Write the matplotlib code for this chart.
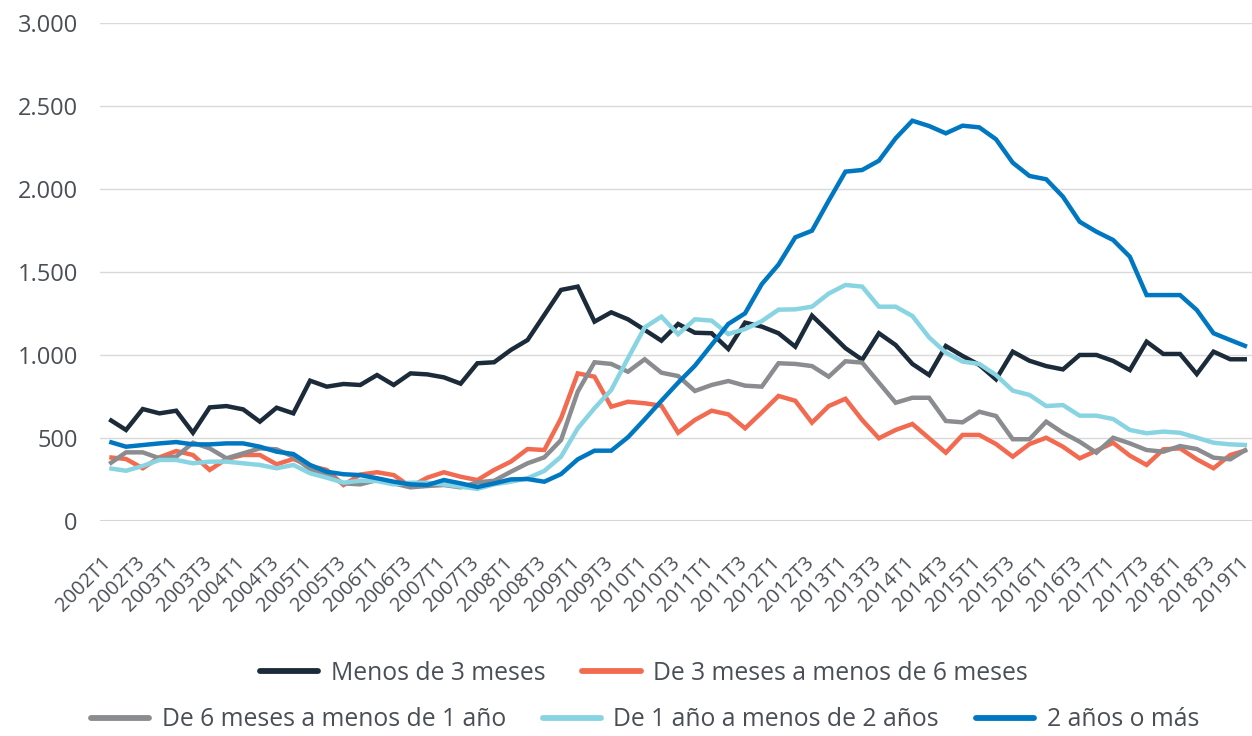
import matplotlib
matplotlib.use("Agg")
import matplotlib.pyplot as plt
import matplotlib.transforms as mtransforms
from matplotlib.lines import Line2D

plt.rcParams['font.family'] = ['Open Sans', 'DejaVu Sans']

# Quarterly periods 2002T1 .. 2019T1
periods = [f"{y}T{q}" for y in range(2002, 2020) for q in range(1, 5)][:69]

menos_3m = [611, 547, 673, 647, 663, 530, 683, 691, 671, 597, 681, 647, 844, 808, 824, 818,
            878, 818, 888, 882, 864, 826, 949, 955, 1029, 1089, 1240, 1391, 1411, 1200, 1256,
            1214, 1150, 1085, 1186, 1133, 1130, 1035, 1194, 1170, 1130, 1049, 1236, 1139, 1040,
            970, 1130, 1059, 945, 878, 1053, 993, 939, 852, 1019, 964, 932, 912, 999, 999, 963,
            908, 1079, 1005, 1005, 884, 1019, 973, 973]

de_3m_6m = [382, 372, 316, 382, 420, 396, 306, 372, 396, 396, 340, 372, 330, 306, 215, 278,
            292, 275, 205, 259, 292, 265, 245, 306, 356, 432, 426, 617, 888, 868, 687, 717,
            708, 693, 530, 607, 663, 641, 557, 653, 752, 723, 591, 691, 735, 607, 497, 547,
            583, 497, 410, 517, 517, 462, 386, 462, 500, 446, 376, 422, 470, 392, 336, 430,
            436, 370, 316, 396, 426]

de_6m_1a = [342, 412, 412, 376, 386, 470, 436, 376, 406, 436, 430, 386, 310, 275, 225, 219,
            245, 225, 201, 209, 215, 201, 231, 241, 295, 346, 382, 486, 778, 955, 945, 898,
            973, 892, 872, 782, 818, 842, 814, 808, 949, 945, 932, 868, 961, 953, 832, 711,
            741, 741, 601, 593, 657, 631, 491, 491, 597, 530, 476, 410, 500, 466, 426, 416,
            450, 432, 380, 370, 432]

de_1a_2a = [316, 301, 330, 366, 366, 346, 356, 356, 346, 336, 316, 336, 286, 259, 229, 241,
            239, 219, 229, 229, 219, 205, 192, 219, 235, 256, 300, 386, 557, 678, 788, 979,
            1165, 1230, 1124, 1214, 1206, 1125, 1155, 1203, 1272, 1274, 1290, 1369, 1421, 1411,
            1290, 1290, 1234, 1105, 1013, 959, 945, 878, 784, 758, 691, 697, 633, 633, 613,
            547, 527, 537, 530, 500, 470, 460, 456]

mas_2a = [476, 446, 456, 466, 474, 460, 460, 466, 466, 446, 416, 402, 336, 295, 280, 275,
          256, 235, 219, 215, 245, 225, 203, 225, 249, 251, 235, 281, 370, 422, 422, 503,
          611, 723, 832, 934, 1060, 1186, 1250, 1426, 1544, 1708, 1748, 1929, 2104, 2114,
          2170, 2305, 2411, 2379, 2335, 2381, 2371, 2299, 2158, 2078, 2058, 1953, 1802, 1742,
          1692, 1591, 1360, 1360, 1360, 1270, 1130, 1089, 1049]

series_names = ["Menos de 3 meses", "De 3 meses a menos de 6 meses",
                "De 6 meses a menos de 1 año", "De 1 año a menos de 2 años", "2 años o más"]
series_values = [menos_3m, de_3m_6m, de_6m_1a, de_1a_2a, mas_2a]
series_colors = ["#1C2B39", "#F26A4F", "#8A8C8F", "#88D4E2", "#0077C1"]

y_ticks = [0, 500, 1000, 1500, 2000, 2500, 3000]
y_labels = ["0", "500", "1.000", "1.500", "2.000", "2.500", "3.000"]

text_color = "#4A4F56"

fig = plt.figure(figsize=(12.52, 7.36), dpi=100)
ax = fig.add_axes([100 / 1252, 215.3 / 736, 1152 / 1252, 497.7 / 736])

x = list(range(len(periods)))
for vals, color in zip(series_values, series_colors):
    ax.plot(x, vals, color=color, lw=3.2, solid_joinstyle='miter', solid_capstyle='butt')

ax.set_xlim(-0.556, 68.3)
ax.set_ylim(0, 3000)

# horizontal grid
for t in y_ticks[1:]:
    ax.axhline(t, color="#D9D9D9", lw=1.0, zorder=0)
ax.axhline(0, color="#D6D6D6", lw=2.2, zorder=0)

for s in ax.spines.values():
    s.set_visible(False)

ax.set_yticks(y_ticks)
ax.set_yticklabels(y_labels, fontsize=17, color=text_color)
ax.tick_params(axis='y', length=0, pad=16)

tick_pos = x[::2]
ax.set_xticks(tick_pos)
ax.set_xticklabels([periods[i] for i in tick_pos], rotation=45, ha='right', va='top',
                   rotation_mode='anchor', fontsize=14.5, color=text_color)
ax.tick_params(axis='x', length=0, pad=23)
shift = mtransforms.ScaledTranslation(-8 / 100, 0, fig.dpi_scale_trans)
for lab in ax.get_xticklabels():
    lab.set_transform(lab.get_transform() + shift)

handles = [Line2D([0], [0], color=c, lw=4.2, solid_capstyle='round') for c in series_colors]

leg_kw = dict(frameon=False, fontsize=17.8, handlelength=2.35, handletextpad=0.5,
              columnspacing=1.5, labelcolor=text_color, loc='center',
              borderpad=0.0, borderaxespad=0.0)
leg1 = fig.legend(handles[:2], series_names[:2], ncol=2,
                  bbox_to_anchor=(644 / 1252, 1 - 673 / 736), **leg_kw)
leg2 = fig.legend(handles[2:], series_names[2:], ncol=3,
                  bbox_to_anchor=(645 / 1252, 1 - 720 / 736), **leg_kw)

fig.savefig("out.png", dpi=100)
